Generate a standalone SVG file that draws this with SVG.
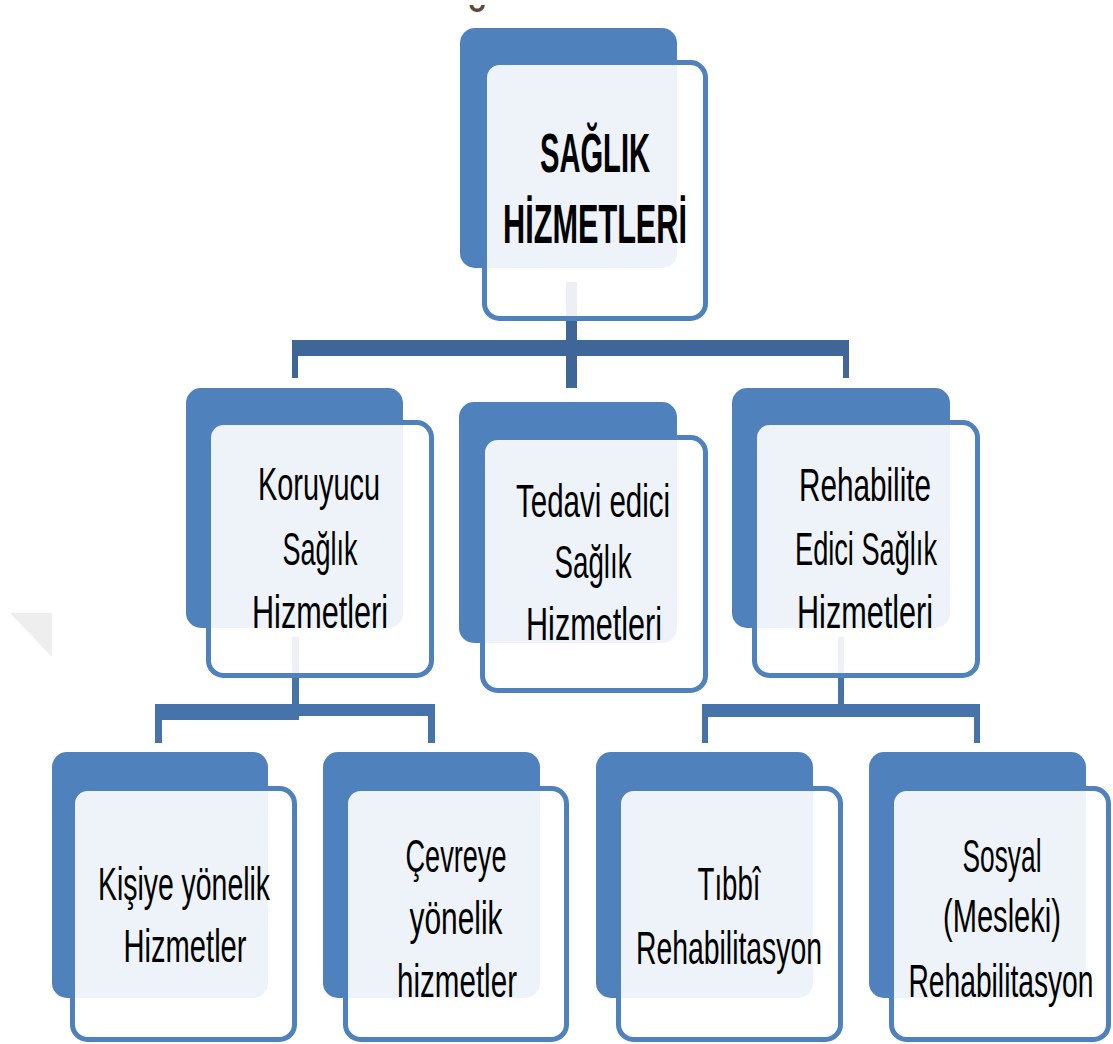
<svg xmlns="http://www.w3.org/2000/svg" width="1113" height="1044" viewBox="0 0 1113 1044">
<style>
.back{fill:#4F81BD}
.front{fill:#FFFFFF;fill-opacity:0.9;stroke:#4F81BD;stroke-width:5}
.t{font-family:"Liberation Sans",Arial,sans-serif;font-size:47px;fill:#000;text-anchor:middle}
.tb{font-family:"Liberation Sans",Arial,sans-serif;font-size:55px;font-weight:bold;fill:#000;text-anchor:middle}
.c1{fill:#3E6699}
.c2{fill:#4674AA}
</style>
<rect width="1113" height="1044" fill="#FFFFFF"/>
<polygon points="10,613 52,613 52,657" fill="#EEEEEE"/>
<text x="478" y="38" font-family="Liberation Sans,Arial,sans-serif" font-size="44" font-weight="bold" fill="#5a4a3a" text-anchor="middle">˘</text>
<g id="connectors">
  <rect class="c1" x="566" y="282" width="11" height="60"/>
  <rect class="c1" x="292" y="340" width="557" height="16"/>
  <rect class="c1" x="292" y="350" width="6" height="28"/>
  <rect class="c1" x="566" y="350" width="11" height="38"/>
  <rect class="c1" x="843" y="350" width="6" height="28"/>
  <rect class="c2" x="292" y="637" width="7" height="70"/>
  <rect class="c2" x="155" y="704" width="144" height="16"/>
  <rect class="c2" x="292" y="704" width="143" height="12"/>
  <rect class="c2" x="155" y="710" width="7" height="33"/>
  <rect class="c2" x="428" y="710" width="7" height="33"/>
  <rect class="c2" x="838" y="637" width="6" height="70"/>
  <rect class="c2" x="702" y="704" width="278" height="13"/>
  <rect class="c2" x="702" y="710" width="6" height="33"/>
  <rect class="c2" x="974" y="710" width="6" height="33"/>
</g>
<g id="saglik-hizmetleri">
  <rect class="back" x="460" y="28" width="217" height="240" rx="15"/>
  <rect class="front" x="484.5" y="62.5" width="221" height="256" rx="15"/>
  <text class="tb" x="595" y="172" textLength="110" lengthAdjust="spacingAndGlyphs">SAĞLIK</text>
  <text class="tb" x="595" y="243" textLength="184" lengthAdjust="spacingAndGlyphs">HİZMETLERİ</text>
</g>
<g id="koruyucu">
  <rect class="back" x="186" y="388" width="217" height="240" rx="15"/>
  <rect class="front" x="208.5" y="422.5" width="223" height="253" rx="15"/>
  <text class="t" x="319" y="500" textLength="122" lengthAdjust="spacingAndGlyphs">Koruyucu</text>
  <text class="t" x="320" y="565" textLength="75" lengthAdjust="spacingAndGlyphs">Sağlık</text>
  <text class="t" x="320" y="628" textLength="136" lengthAdjust="spacingAndGlyphs">Hizmetleri</text>
</g>
<g id="tedavi">
  <rect class="back" x="459" y="402" width="218" height="241" rx="15"/>
  <rect class="front" x="482.5" y="437.5" width="223" height="253" rx="15"/>
  <text class="t" x="593" y="517" textLength="154" lengthAdjust="spacingAndGlyphs">Tedavi edici</text>
  <text class="t" x="593" y="578" textLength="77" lengthAdjust="spacingAndGlyphs">Sağlık</text>
  <text class="t" x="594" y="640" textLength="136" lengthAdjust="spacingAndGlyphs">Hizmetleri</text>
</g>
<g id="rehabilite">
  <rect class="back" x="732" y="388" width="218" height="240" rx="15"/>
  <rect class="front" x="754.5" y="422.5" width="223" height="253" rx="15"/>
  <text class="t" x="865" y="501" textLength="132" lengthAdjust="spacingAndGlyphs">Rehabilite</text>
  <text class="t" x="866" y="565" textLength="142" lengthAdjust="spacingAndGlyphs">Edici Sağlık</text>
  <text class="t" x="865" y="628" textLength="136" lengthAdjust="spacingAndGlyphs">Hizmetleri</text>
</g>
<g id="kisiye">
  <rect class="back" x="52" y="752" width="216" height="246" rx="15"/>
  <rect class="front" x="72.5" y="788.5" width="222" height="251" rx="15"/>
  <text class="t" x="184" y="900" textLength="172" lengthAdjust="spacingAndGlyphs">Kişiye yönelik</text>
  <text class="t" x="185" y="962" textLength="123" lengthAdjust="spacingAndGlyphs">Hizmetler</text>
</g>
<g id="cevreye">
  <rect class="back" x="323" y="752" width="217" height="246" rx="15"/>
  <rect class="front" x="345.5" y="788.5" width="221" height="251" rx="15"/>
  <text class="t" x="456" y="872" textLength="101" lengthAdjust="spacingAndGlyphs">Çevreye</text>
  <text class="t" x="456" y="934" textLength="93" lengthAdjust="spacingAndGlyphs">yönelik</text>
  <text class="t" x="457" y="997" textLength="120" lengthAdjust="spacingAndGlyphs">hizmetler</text>
</g>
<g id="tibbi">
  <rect class="back" x="596" y="752" width="217" height="246" rx="15"/>
  <rect class="front" x="618.5" y="788.5" width="222" height="251" rx="15"/>
  <text class="t" x="729" y="900" textLength="63" lengthAdjust="spacingAndGlyphs">Tıbbî</text>
  <text class="t" x="729" y="964" textLength="186" lengthAdjust="spacingAndGlyphs">Rehabilitasyon</text>
</g>
<g id="sosyal">
  <rect class="back" x="869" y="752" width="217" height="246" rx="15"/>
  <rect class="front" x="891.5" y="788.5" width="217" height="251" rx="15"/>
  <text class="t" x="1002" y="872" textLength="79" lengthAdjust="spacingAndGlyphs">Sosyal</text>
  <text class="t" x="1002" y="932" textLength="118" lengthAdjust="spacingAndGlyphs">(Mesleki)</text>
  <text class="t" x="1001" y="997" textLength="185" lengthAdjust="spacingAndGlyphs">Rehabilitasyon</text>
</g>
</svg>
